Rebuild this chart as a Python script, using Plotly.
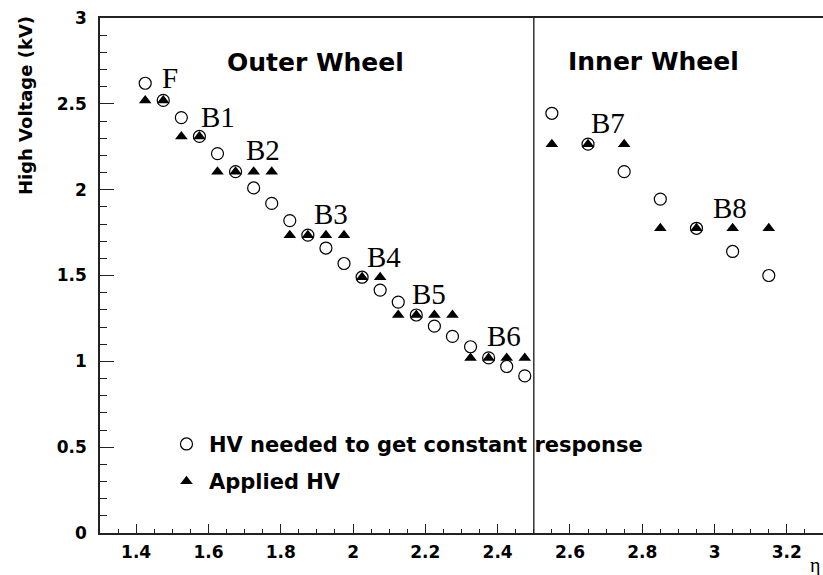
import plotly.graph_objects as go

# eta positions of measured points
eta_outer = [1.425, 1.475, 1.525, 1.575, 1.625, 1.675, 1.725, 1.775, 1.825, 1.875, 1.925,
             1.975, 2.025, 2.075, 2.125, 2.175, 2.225, 2.275, 2.325, 2.375, 2.425, 2.475]
eta_inner = [2.55, 2.65, 2.75, 2.85, 2.95, 3.05, 3.15]

hv_needed_outer = [2.62, 2.52, 2.42, 2.31, 2.21, 2.105, 2.01, 1.92, 1.82, 1.735, 1.66,
                   1.57, 1.49, 1.415, 1.345, 1.27, 1.205, 1.145, 1.085, 1.02, 0.97, 0.915]
hv_needed_inner = [2.445, 2.265, 2.105, 1.945, 1.775, 1.64, 1.50]

hv_applied_outer = [2.52, 2.52, 2.31, 2.31, 2.105, 2.105, 2.105, 2.105, 1.735, 1.735, 1.735,
                    1.735, 1.49, 1.49, 1.27, 1.27, 1.27, 1.27, 1.02, 1.02, 1.02, 1.02]
hv_applied_inner = [2.265, 2.265, 2.265, 1.775, 1.775, 1.775, 1.775]

sector_labels = ["F", "B1", "B2", "B3", "B4", "B5", "B6", "B7", "B8"]
sector_label_eta = [1.466, 1.573, 1.698, 1.886, 2.032, 2.158, 2.366, 2.654, 2.990]
sector_label_hv = [2.649, 2.424, 2.232, 1.856, 1.608, 1.395, 1.148, 2.386, 1.896]

wheel_names = ["Outer Wheel", "Inner Wheel"]
wheel_eta = [1.895, 2.830]
wheel_hv = [2.742, 2.745]

wheel_boundary = 2.5

x_ticks = [1.4, 1.6, 1.8, 2.0, 2.2, 2.4, 2.6, 2.8, 3.0, 3.2]
x_ticktext = ["1.4", "1.6", "1.8", "2", "2.2", "2.4", "2.6", "2.8", "3", "3.2"]
y_ticks = [0, 0.5, 1, 1.5, 2, 2.5, 3]
y_ticktext = ["0", "0.5", "1", "1.5", "2", "2.5", "3"]

SANS = "DejaVu Sans"
SERIF = "Liberation Serif"

eta_all = eta_outer + eta_inner
fig = go.Figure()
fig.add_trace(go.Scatter(
    x=eta_all, y=hv_applied_outer + hv_applied_inner, mode="markers",
    name="Applied HV", legendgroup="b", legendrank=2,
    marker=dict(symbol="triangle-up", size=11, color="black", line=dict(width=0)),
))
fig.add_trace(go.Scatter(
    x=eta_all, y=hv_needed_outer + hv_needed_inner, mode="markers",
    name="HV needed to get constant response", legendgroup="a", legendrank=1,
    marker=dict(symbol="circle-open", size=12, color="black", line=dict(width=1.2, color="black")),
))

fig.add_shape(type="line", xref="x", yref="y", x0=wheel_boundary, x1=wheel_boundary,
              y0=0, y1=3, line=dict(color="#333", width=1.5), layer="below")

annotations = []
for t, x, y in zip(sector_labels, sector_label_eta, sector_label_hv):
    annotations.append(dict(x=x, y=y, xref="x", yref="y", text=t, showarrow=False,
                            xanchor="left", yanchor="middle",
                            font=dict(family=SERIF, size=29, color="black")))
for t, x, y in zip(wheel_names, wheel_eta, wheel_hv):
    annotations.append(dict(x=x, y=y, xref="x", yref="y", text="<b>" + t + "</b>",
                            showarrow=False, xanchor="center", yanchor="middle",
                            font=dict(family=SANS, size=25, color="black")))
annotations.append(dict(x=-0.1037, y=0.829, xref="paper", yref="paper",
                        text="<b>High Voltage (kV)</b>", textangle=-90, showarrow=False,
                        xanchor="center", yanchor="middle",
                        font=dict(family=SANS, size=18, color="black")))
annotations.append(dict(x=0.989, y=-0.064, xref="paper", yref="paper", text="η",
                        showarrow=False, xanchor="center", yanchor="middle",
                        font=dict(family=SERIF, size=20, color="black")))

axis_common = dict(showgrid=False, zeroline=False, showline=True, linecolor="#222",
                   linewidth=1.5, ticks="inside", tickcolor="#222", tickwidth=1.2)

fig.update_layout(
    width=823, height=575,
    margin=dict(l=100, r=0, t=18, b=42),
    paper_bgcolor="white", plot_bgcolor="white",
    showlegend=True,
    legend=dict(x=0.0885, y=0.212, xanchor="left", yanchor="top",
                bgcolor="rgba(0,0,0,0)", tracegroupgap=7, itemwidth=35,
                font=dict(family=SANS, size=21, color="black", weight="bold"),
                traceorder="grouped"),
    annotations=annotations,
    xaxis=dict(range=[1.3, 3.3], tickvals=x_ticks, ticktext=x_ticktext, ticklen=9,
               mirror=True, ticklabelstandoff=3,
               tickfont=dict(family=SANS, size=17, color="black", weight="bold"),
               minor=dict(dtick=0.05, tick0=1.3, ticklen=4.5, ticks="inside", tickcolor="#222"),
               **axis_common),
    yaxis=dict(range=[0, 3], tickvals=y_ticks, ticktext=y_ticktext, ticklen=14,
               ticklabelstandoff=8,
               tickfont=dict(family=SANS, size=17, color="black", weight="bold"),
               minor=dict(dtick=0.1, tick0=0, ticklen=7, ticks="inside", tickcolor="#222"),
               **axis_common),
)

fig.write_html(
    "out.html",
    config={"displayModeBar": False},
    post_script="document.body.style.margin='0';document.body.style.overflow='hidden';",
)
